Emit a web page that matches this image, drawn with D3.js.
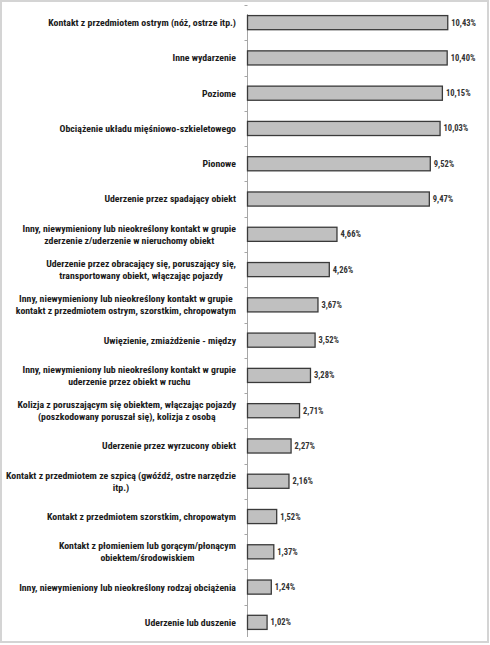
<!DOCTYPE html>
<html>
<head>
<meta charset="utf-8">
<script src="https://cdn.jsdelivr.net/npm/d3@7"></script>
<style>
  html, body { margin: 0; padding: 0; background: #fff; }
  svg text { font-family: "Liberation Sans Narrow", "Roboto Condensed", "Arial Narrow", "Liberation Sans", sans-serif; }
</style>
</head>
<body>
<div class="chart-wrapper"></div>
<script>
// categories (line breaks as in the original chart)
let categories = [
  'Kontakt z przedmiotem ostrym (nóż, ostrze itp.)',
  'Inne wydarzenie',
  'Poziome',
  'Obciążenie układu mięśniowo-szkieletowego',
  'Pionowe',
  'Uderzenie przez spadający obiekt',
  'Inny, niewymieniony lub nieokreślony kontakt w grupie\nzderzenie z/uderzenie w nieruchomy obiekt',
  'Uderzenie przez obracający się, poruszający się,\ntransportowany obiekt, włączając pojazdy',
  'Inny, niewymieniony lub nieokreślony kontakt w grupie\nkontakt z przedmiotem ostrym, szorstkim, chropowatym',
  'Uwięzienie, zmiażdżenie - między',
  'Inny, niewymieniony lub nieokreślony kontakt w grupie\nuderzenie przez obiekt w ruchu',
  'Kolizja z poruszającym się obiektem, włączając pojazdy\n(poszkodowany poruszał się), kolizja z osobą',
  'Uderzenie przez wyrzucony obiekt',
  'Kontakt z przedmiotem ze szpicą (gwóźdź, ostre narzędzie\nitp.)',
  'Kontakt z przedmiotem szorstkim, chropowatym',
  'Kontakt z płomieniem lub gorącym/płonącym\nobiektem/środowiskiem',
  'Inny, niewymieniony lub nieokreślony rodzaj obciążenia',
  'Uderzenie lub duszenie'
];

let values = [10.43, 10.40, 10.15, 10.03, 9.52, 9.47, 4.66, 4.26, 3.67, 3.52, 3.28, 2.71, 2.27, 2.16, 1.52, 1.37, 1.24, 1.02];

let xDomain = [0, 12];

let width = 490;
let height = 645;

let axisX = 247;

let svg = d3.select('.chart-wrapper').append('svg')
.attr('width', width)
.attr('height', height);

// frame of the picture
svg.append('rect')
.attr('x', 1)
.attr('y', 1)
.attr('width', 487)
.attr('height', 641)
.attr('fill', '#fff')
.attr('stroke', '#d4d4d4')
.attr('stroke-width', 2);

let xScale = d3.scaleLinear()
.domain(xDomain)
.range([axisX, axisX + 230.4]);

let yScale = d3.scaleBand()
.domain(categories)
.range([5, 640])
.paddingInner(0.6)
.paddingOuter(0.3);

// axis line with ticks between categories
let axisG = svg.append('g');

axisG.append('line')
.attr('x1', axisX + 0.5)
.attr('x2', axisX + 0.5)
.attr('y1', 14)
.attr('y2', 637)
.attr('stroke', '#a6a6a6')
.attr('stroke-width', 1);

axisG.selectAll('.tick')
.data(categories)
.enter()
.append('line')
.attr('class', 'tick')
.attr('x1', axisX - 2.5)
.attr('x2', axisX + 0.5)
.attr('y1', d => Math.round(yScale(d) - yScale.bandwidth() * 0.75) + 0.5)
.attr('y2', d => Math.round(yScale(d) - yScale.bandwidth() * 0.75) + 0.5)
.attr('stroke', '#a6a6a6');

let rows = svg.selectAll('.row')
.data(categories)
.enter()
.append('g')
.attr('class', 'row');

// bars
rows.append('rect')
.attr('x', xScale(0) + 0.5)
.attr('y', d => yScale(d))
.attr('width', (d, i) => xScale(values[i]) - xScale(0))
.attr('height', yScale.bandwidth())
.attr('fill', '#c0c0c0')
.attr('stroke', '#3a3a3a')
.attr('stroke-width', 1.3);

// value labels
rows.append('text')
.attr('x', (d, i) => xScale(values[i]) + 4)
.attr('y', d => yScale(d) + yScale.bandwidth() / 2)
.attr('dy', '0.35em')
.attr('font-size', 8.5)
.attr('font-weight', 'bold')
.attr('fill', '#333')
.text((d, i) => values[i].toFixed(2).replace('.', ',') + '%');

// category labels: block right aligned, lines centred inside the block (like Excel)
let labelRight = 236;

rows.each(function(d) {
  let lines = d.split('\n');
  let cy = yScale(d) + yScale.bandwidth() / 2;
  let t = d3.select(this).append('text')
  .attr('text-anchor', 'middle')
  .attr('font-size', 9.8)
  .attr('font-weight', 'bold')
  .attr('fill', '#1a1a1a');
  let spans = lines.map((line, j) => t.append('tspan')
    .attr('y', cy + (j - (lines.length - 1) / 2) * 12)
    .attr('dy', '0.35em')
    .text(line));
  let maxW = d3.max(spans, s => s.node().getComputedTextLength());
  spans.forEach(s => s.attr('x', labelRight - maxW / 2));
});
</script>
</body>
</html>
